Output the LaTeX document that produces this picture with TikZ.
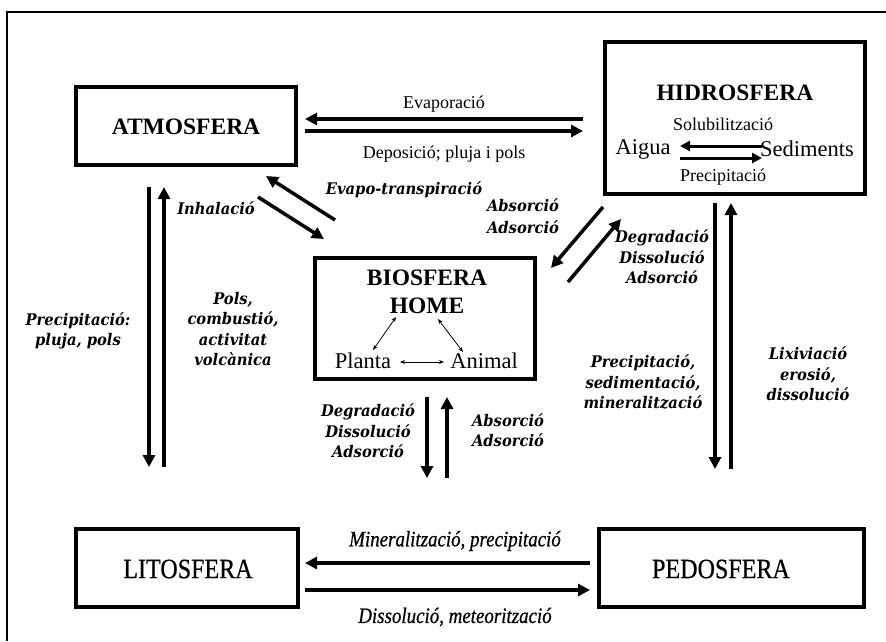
\documentclass[tikz,border=0pt]{standalone}
\usepackage{fontspec}
\setmainfont{Liberation Serif}
\newfontfamily\bifont[FakeStretch=0.92]{DejaVu Serif}
\newfontfamily\condfont[FakeStretch=0.86,FakeBold=0.6]{Liberation Serif}
\usetikzlibrary{arrows.meta}
\begin{document}
\begin{tikzpicture}[x=1pt,y=-1pt,
  box/.style={draw,line width=4pt,inner sep=0pt},
  boldtitle/.style={font=\fontsize{23.5}{26}\selectfont\bfseries},
  plaintitle/.style={font=\condfont\fontsize{28}{30}\selectfont},
  flow/.style={line width=3.5pt,-{Triangle[length=12pt,width=12pt]}},
  smallflow/.style={line width=3pt,-{Triangle[length=10pt,width=10pt]}},
  thinflow/.style={line width=0.8pt,{Stealth[length=5pt,width=4pt]}-{Stealth[length=5pt,width=4pt]}},
  lbl/.style={font=\fontsize{18}{20}\selectfont,align=center,inner sep=0pt},
  word/.style={font=\fontsize{22.5}{26}\selectfont,inner sep=0pt},
  bi/.style={font=\bifont\fontsize{16}{20.5}\selectfont\bfseries\itshape,align=center,inner sep=0pt},
  it/.style={font=\condfont\fontsize{22}{24}\selectfont\itshape,align=center,inner sep=0pt}
]
\useasboundingbox (0,0) rectangle (886,641);
\draw[line width=1.5pt] (7,641) -- (7,12) -- (886,12);

% boxes
\node[box,minimum width=220pt,minimum height=78pt] (atm) at (186,126) {};
\node[boldtitle] (atmT) at (186,127) {ATMOSFERA};
\node[box,minimum width=260pt,minimum height=152pt] (hid) at (735,118) {};
\node[boldtitle] (hidT) at (735,93) {HIDROSFERA};
\node[box,minimum width=220pt,minimum height=121pt] (bio) at (425,318.5) {};
\node[boldtitle] (bioT) at (427,278) {BIOSFERA};
\node[boldtitle] (homeT) at (427,306) {HOME};
\node[box,minimum width=222pt,minimum height=78pt] (lit) at (187,568) {};
\node[plaintitle] (litT) at (188,569) {LITOSFERA};
\node[box,minimum width=265pt,minimum height=78pt] (ped) at (731.5,568) {};
\node[plaintitle] (pedT) at (721,569) {PEDOSFERA};

% inside hidrosfera
\node[lbl] (sol) at (723,124) {Solubilització};
\node[word] (aig) at (643,149) {Aigua};
\node[word] (sed) at (807,149) {Sediments};
\node[lbl] (prec) at (723,177) {Precipitació};
\coordinate (hA1) at (762,146); \coordinate (hA2) at (680,146);
\coordinate (hB1) at (680,158); \coordinate (hB2) at (762,158);
\draw[smallflow] (hA1) -- (hA2);
\draw[smallflow] (hB1) -- (hB2);

% inside biosfera
\node[word] (pla) at (363,361) {Planta};
\node[word] (ani) at (484,361) {Animal};
\coordinate (b1) at (400,362); \coordinate (b2) at (444,362);
\coordinate (b3) at (373,350); \coordinate (b4) at (396,317);
\coordinate (b5) at (438,319); \coordinate (b6) at (463,352);
\draw[thinflow] (b1) -- (b2);
\draw[thinflow] (b3) -- (b4);
\draw[thinflow] (b5) -- (b6);

% atmosfera <-> hidrosfera
\coordinate (t1) at (583,119); \coordinate (t2) at (305,119);
\coordinate (t3) at (305,131); \coordinate (t4) at (583,131);
\draw[flow] (t1) -- (t2);
\draw[flow] (t3) -- (t4);
\node[lbl] (evap) at (444,104) {Evaporació};
\node[lbl] (depo) at (444,154) {Deposició; pluja i pols};

% atmosfera <-> litosfera
\coordinate (l1) at (149,187); \coordinate (l2) at (149,467);
\coordinate (l3) at (164,467); \coordinate (l4) at (164,187);
\draw[flow] (l1) -- (l2);
\draw[flow] (l3) -- (l4);
\node[bi] (precL) at (78,331) {Precipitació:\\pluja, pols};
\node[bi] (pols) at (233,329) {Pols,\\combustió,\\activitat\\volcànica};

% atmosfera <-> biosfera
\coordinate (d1) at (335,220); \coordinate (d2) at (266,176);
\coordinate (d3) at (258,197); \coordinate (d4) at (324,239);
\draw[flow] (d1) -- (d2);
\draw[flow] (d3) -- (d4);
\node[bi] (inh) at (216,208) {Inhalació};
\node[bi] (evt) at (404,190) {Evapo-transpiració};

% hidrosfera <-> biosfera
\coordinate (e1) at (603,207); \coordinate (e2) at (551,268);
\coordinate (e3) at (568,282); \coordinate (e4) at (621,219);
\draw[flow] (e1) -- (e2);
\draw[flow] (e3) -- (e4);
\node[bi] (absU) at (523,216) {Absorció\\[2pt]Adsorció};
\node[bi] (degR) at (662,257) {Degradació\\Dissolució\\Adsorció};

% hidrosfera <-> pedosfera
\coordinate (r1) at (715,203); \coordinate (r2) at (715,469);
\coordinate (r3) at (731,469); \coordinate (r4) at (731,203);
\draw[flow] (r1) -- (r2);
\draw[flow] (r3) -- (r4);
\node[bi] (precR) at (643,382) {Precipitació,\\sedimentació,\\mineralització};
\node[bi] (lix) at (808,374) {Lixiviació\\erosió,\\dissolució};

% biosfera <-> pedosfera/litosfera (middle)
\coordinate (m1) at (427,397); \coordinate (m2) at (427,478);
\coordinate (m3) at (447,478); \coordinate (m4) at (447,397);
\draw[flow] (m1) -- (m2);
\draw[flow] (m3) -- (m4);
\node[bi] (degM) at (368,431) {Degradació\\Dissolució\\Adsorció};
\node[bi] (absM) at (508,430) {Absorció\\Adsorció};

% litosfera <-> pedosfera
\coordinate (p1) at (590,563); \coordinate (p2) at (305,563);
\coordinate (p3) at (305,590); \coordinate (p4) at (590,590);
\draw[flow] (p1) -- (p2);
\draw[flow] (p3) -- (p4);
\node[it] (min) at (455,541) {Mineralització, precipitació};
\node[it] (dis) at (455,617) {Dissolució, meteorització};
\end{tikzpicture}
\end{document}
